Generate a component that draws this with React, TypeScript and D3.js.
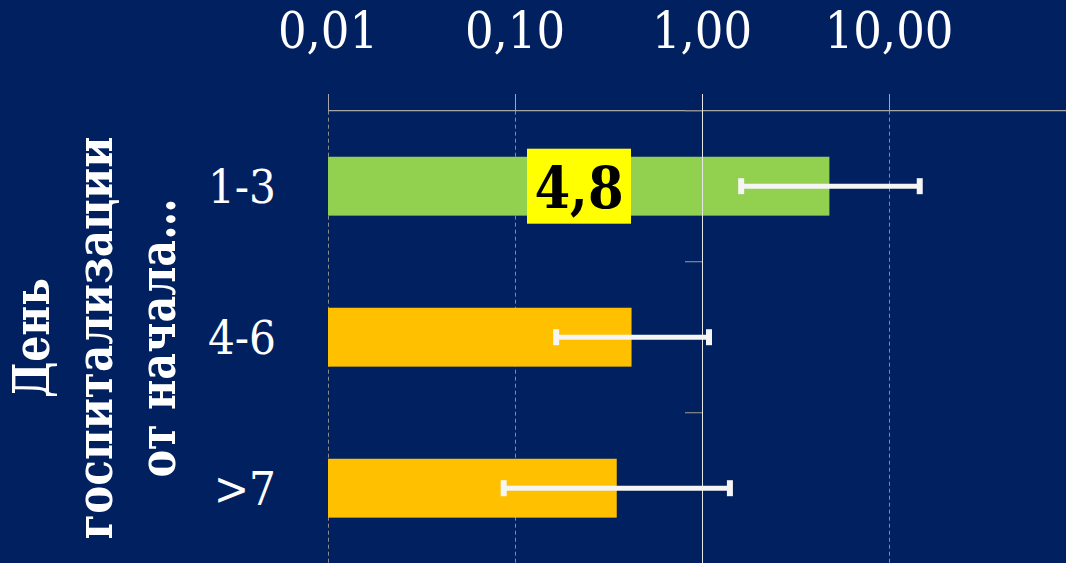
import React from "react";
import * as d3 from "d3";

const categories = ["1-3", "4-6", ">7"];
const values = [4.8, 0.42, 0.35];
const ciLow = [1.62, 0.166, 0.087];
const ciHigh = [14.6, 1.09, 1.41];
const barColors = ["#92D050", "#FFC000", "#FFC000"];
const tickValues = [0.01, 0.1, 1, 10];
const tickLabels = ["0,01", "0,10", "1,00", "10,00"];
const titleLines = ["День", "госпитализации", "от начала…"];
const titleLengths = [120, 403, 279];
const highlightLabel = "4,8";

const W = 1066;
const H = 563;
const SERIF = "'DejaVu Serif Condensed', 'DejaVu Serif', serif";

export default function App() {
  const x = d3.scaleLog().domain([0.01, 100]).range([328, 1076]);
  const y = d3
    .scaleBand<string>()
    .domain(categories)
    .range([110.7, 563.7])
    .paddingInner(0.61)
    .paddingOuter(0.305);
  const step = y.step();
  const top = 110.7;
  const crossX = x(1);
  const boundaries = d3.range(categories.length + 1).map((i) => top + i * step);

  const hlIdx = 0;
  const hlCenterY = (y(categories[hlIdx]) as number) + y.bandwidth() / 2;

  return (
    <svg
      width={W}
      height={H}
      style={{ position: "fixed", left: 0, top: 0, display: "block" }}
    >
      <rect x={0} y={0} width={W} height={H} fill="#002060" />

      {/* dashed gridlines */}
      {tickValues
        .filter((t) => t !== 1)
        .map((t, i) => (
          <line
            key={"g" + i}
            x1={Math.round(x(t)) + 0.5}
            x2={Math.round(x(t)) + 0.5}
            y1={top}
            y2={H}
            stroke="#8a8a8a"
            strokeWidth={1}
            strokeDasharray="4,3"
          />
        ))}

      {/* top value axis */}
      <line x1={x(0.01)} x2={W} y1={top} y2={top} stroke="#a6a6a6" strokeWidth={1.2} />
      {tickValues.map((t, i) => (
        <line
          key={"t" + i}
          x1={Math.round(x(t)) + 0.5}
          x2={Math.round(x(t)) + 0.5}
          y1={94}
          y2={top}
          stroke="#a6a6a6"
          strokeWidth={1}
        />
      ))}
      {tickValues.map((t, i) => (
        <text
          key={"tl" + i}
          x={x(t)}
          y={48}
          textAnchor="middle"
          fill="#ffffff"
          fontFamily={SERIF}
          style={{ fontStretch: "condensed" }}
          fontSize={50}
        >
          {tickLabels[i]}
        </text>
      ))}

      {/* bars */}
      {categories.map((c, i) => (
        <rect
          key={"b" + i}
          x={x(0.01)}
          y={y(c)}
          width={x(values[i]) - x(0.01)}
          height={y.bandwidth()}
          fill={barColors[i]}
        />
      ))}

      {/* category axis crossing at 1 */}
      <line
        x1={Math.round(crossX) + 0.5}
        x2={Math.round(crossX) + 0.5}
        y1={94}
        y2={H}
        stroke="#e6e6e6"
        strokeWidth={1}
      />
      {boundaries.map((b, i) => (
        <line
          key={"ct" + i}
          x1={crossX - 17}
          x2={crossX}
          y1={b}
          y2={b}
          stroke="#8a8a8a"
          strokeWidth={1.2}
        />
      ))}

      {/* error bars */}
      {categories.map((c, i) => {
        const cy = (y(c) as number) + y.bandwidth() / 2;
        const x1 = x(ciLow[i]);
        const x2 = x(ciHigh[i]);
        return (
          <g key={"e" + i} fill="#f5f5f5" stroke="#f5f5f5">
            <line x1={x1} x2={x2} y1={cy} y2={cy} strokeWidth={5} />
            <rect x={x1 - 3} y={cy - 8} width={6} height={16} stroke="none" />
            <rect x={x2 - 3} y={cy - 8} width={6} height={16} stroke="none" />
          </g>
        );
      })}

      {/* highlighted value label */}
      <rect x={527} y={hlCenterY - 37.5} width={104} height={75} fill="#FFFF00" />
      <text
        x={579}
        y={hlCenterY + 22}
        textAnchor="middle"
        fill="#000000"
        fontFamily={SERIF}
        style={{ fontStretch: "condensed" }}
        fontWeight="bold"
        fontSize={57}
      >
        {highlightLabel}
      </text>

      {/* category labels */}
      {categories.map((c, i) => (
        <text
          key={"cl" + i}
          x={276}
          y={(y(c) as number) + y.bandwidth() / 2 + 17}
          textAnchor="end"
          fill="#ffffff"
          fontFamily={SERIF}
          style={{ fontStretch: "condensed" }}
          fontSize={47}
        >
          {c}
        </text>
      ))}

      {/* axis title */}
      <g transform="translate(0,338) rotate(-90)">
        {titleLines.map((l, i) => (
          <text
            key={"tt" + i}
            x={0}
            y={49 + i * 63}
            textAnchor="middle"
            fill="#ffffff"
            fontFamily={SERIF}
            style={{ fontStretch: "condensed" }}
            fontWeight="bold"
            fontSize={51}
            textLength={titleLengths[i]}
            lengthAdjust="spacingAndGlyphs"
          >
            {l}
          </text>
        ))}
      </g>
    </svg>
  );
}
